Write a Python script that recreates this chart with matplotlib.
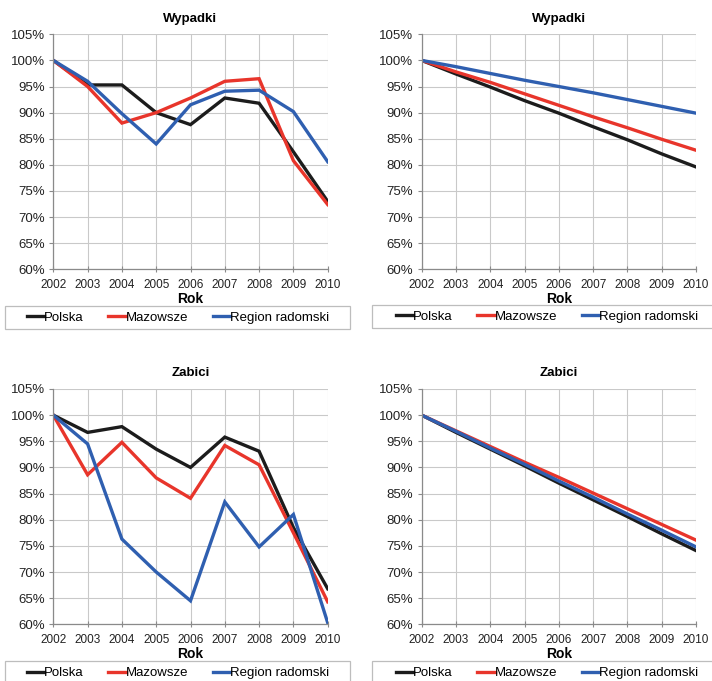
import matplotlib
matplotlib.use("Agg")
import matplotlib.pyplot as plt
from matplotlib.patches import Rectangle
from matplotlib.ticker import FuncFormatter

plt.rcParams['font.family'] = ['Liberation Sans', 'DejaVu Sans']

years = [2002, 2003, 2004, 2005, 2006, 2007, 2008, 2009, 2010]
series_names = ["Polska", "Mazowsze", "Region radomski"]
colors = ["#1c1c1c", "#e8352b", "#2f5fb0"]

# Wypadki - actual values (% of 2002)
wyp_polska = [100, 95.3, 95.3, 90.0, 87.7, 92.8, 91.8, 82.5, 73.0]
wyp_mazowsze = [100, 95.0, 88.0, 90.0, 92.8, 96.0, 96.5, 80.8, 72.4]
wyp_region = [100, 96.0, 89.8, 84.0, 91.5, 94.1, 94.3, 90.2, 80.6]

# Wypadki - trend
wyp_tr_polska = [100, 97.4, 94.9, 92.3, 89.9, 87.3, 84.8, 82.1, 79.6]
wyp_tr_mazowsze = [100, 97.8, 95.8, 93.6, 91.4, 89.2, 87.1, 84.9, 82.8]
wyp_tr_region = [100, 98.8, 97.5, 96.2, 95.0, 93.8, 92.5, 91.2, 89.9]

# Zabici - actual values
zab_polska = [100, 96.7, 97.8, 93.5, 90.0, 95.8, 93.1, 78.5, 66.8]
zab_mazowsze = [100, 88.6, 94.8, 88.0, 84.1, 94.2, 90.5, 77.5, 64.3]
zab_region = [100, 94.5, 76.3, 70.0, 64.5, 83.4, 74.8, 81.0, 60.3]

# Zabici - trend
zab_tr_polska = [100, 96.7, 93.5, 90.3, 87.0, 83.8, 80.6, 77.3, 74.1]
zab_tr_mazowsze = [100, 97.0, 94.0, 91.0, 88.1, 85.1, 82.1, 79.1, 76.1]
zab_tr_region = [100, 96.9, 93.7, 90.6, 87.4, 84.3, 81.1, 78.0, 74.8]

W, H = 712, 681
fig = plt.figure(figsize=(W / 100, H / 100), dpi=100)


def px_axes(x0, x1, ytop, ybot):
    return fig.add_axes([x0 / W, 1 - ybot / H, (x1 - x0) / W, (ybot - ytop) / H])


def draw_panel(ax, title, data):
    for vals, c in zip(data, colors):
        ax.plot(years, vals, color=c, lw=2.4, solid_joinstyle='miter')
    ax.set_xlim(2002, 2010)
    ax.set_ylim(60, 105)
    ax.set_xticks(years)
    ax.set_yticks(range(60, 106, 5))
    ax.yaxis.set_major_formatter(FuncFormatter(lambda v, p: "{:.0f}%".format(v)))
    ax.grid(True, color="#c9c9c9", lw=0.8)
    ax.set_axisbelow(True)
    for s in ["top", "right"]:
        ax.spines[s].set_visible(False)
    for s in ["left", "bottom"]:
        ax.spines[s].set_color("#8a8a8a")
        ax.spines[s].set_linewidth(0.9)
    ax.tick_params(axis='x', direction='inout', length=4, color="#8a8a8a",
                   labelsize=8.5, pad=5, labelcolor="#222222")
    ax.tick_params(axis='y', direction='out', length=3, color="#8a8a8a",
                   labelsize=9.5, pad=3, labelcolor="#222222")
    ax.set_title(title, fontsize=9.5, fontweight='bold', pad=9)
    ax.set_xlabel("Rok", fontsize=10, fontweight='bold', labelpad=1)


def draw_legend(ax, bx0, bx1, by0, by1, cx):
    fig.patches.append(Rectangle((bx0 / W, 1 - by1 / H), (bx1 - bx0) / W, (by1 - by0) / H,
                                 transform=fig.transFigure, fill=False,
                                 edgecolor="#bdbdbd", lw=0.9))
    handles = ax.get_lines()[:3]
    fig.legend(handles, series_names, loc='center', ncol=3, frameon=False,
               bbox_to_anchor=(cx / W, 1 - (by0 + by1) / 2 / H),
               fontsize=9.5, handlelength=1.3, handletextpad=0.0,
               columnspacing=1.9, borderpad=0)


ax1 = px_axes(53.3, 327.7, 34.3, 269.3)
draw_panel(ax1, "Wypadki", [wyp_polska, wyp_mazowsze, wyp_region])
draw_legend(ax1, 5, 350, 306, 329, 178)

ax2 = px_axes(421.7, 696, 34.3, 269.3)
draw_panel(ax2, "Wypadki", [wyp_tr_polska, wyp_tr_mazowsze, wyp_tr_region])
draw_legend(ax2, 372, 720, 305, 328, 547)

ax3 = px_axes(53.3, 327.7, 389, 624.3)
draw_panel(ax3, "Zabici", [zab_polska, zab_mazowsze, zab_region])
draw_legend(ax3, 5, 350, 661, 685, 178)

ax4 = px_axes(421.7, 696, 389, 624.3)
draw_panel(ax4, "Zabici", [zab_tr_polska, zab_tr_mazowsze, zab_tr_region])
draw_legend(ax4, 372, 720, 661, 685, 547)

fig.savefig("out.png", dpi=100)
